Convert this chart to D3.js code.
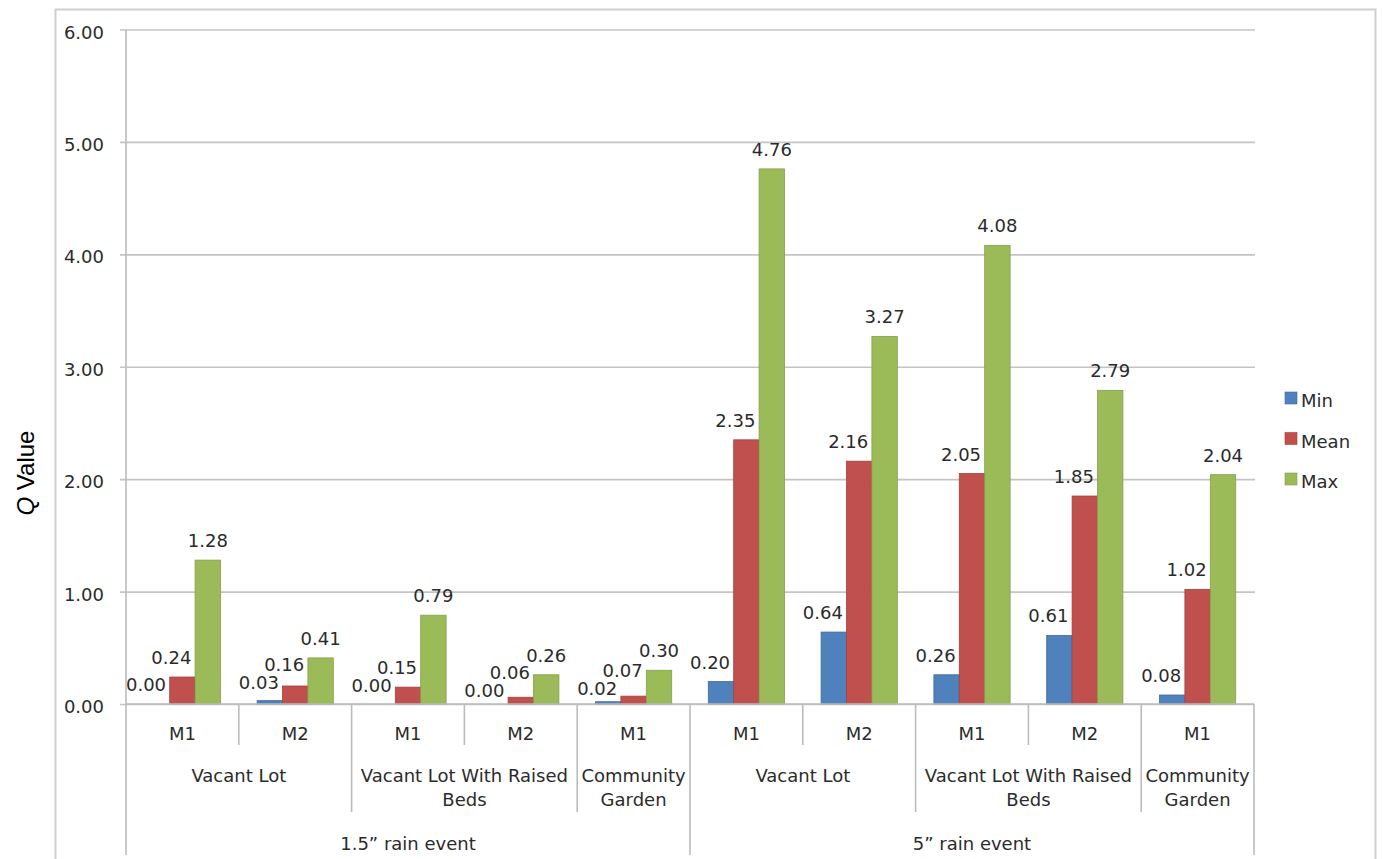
<!DOCTYPE html>
<html>
<head>
<meta charset="utf-8">
<script src="https://cdn.jsdelivr.net/npm/d3@7"></script>
<style>
  html, body { margin: 0; padding: 0; background: #fff; }
  svg text { font-family: "DejaVu Sans", Verdana, sans-serif; fill: #2b2b2b; }
</style>
</head>
<body>
<svg id="chart" width="1383" height="859"></svg>
<script>
// ---- data ----
const events = ['1.5” rain event', '1.5” rain event', '1.5” rain event', '1.5” rain event', '1.5” rain event',
                '5” rain event', '5” rain event', '5” rain event', '5” rain event', '5” rain event'];
const sites = ['Vacant Lot', 'Vacant Lot', 'Vacant Lot With Raised Beds', 'Vacant Lot With Raised Beds', 'Community Garden',
               'Vacant Lot', 'Vacant Lot', 'Vacant Lot With Raised Beds', 'Vacant Lot With Raised Beds', 'Community Garden'];
const methods = ['M1', 'M2', 'M1', 'M2', 'M1', 'M1', 'M2', 'M1', 'M2', 'M1'];

const seriesNames = ['Min', 'Mean', 'Max'];
const minValues  = [0.00, 0.03, 0.00, 0.00, 0.02, 0.20, 0.64, 0.26, 0.61, 0.08];
const meanValues = [0.24, 0.16, 0.15, 0.06, 0.07, 2.35, 2.16, 2.05, 1.85, 1.02];
const maxValues  = [1.28, 0.41, 0.79, 0.26, 0.30, 4.76, 3.27, 4.08, 2.79, 2.04];
const yTickValues = [0, 1, 2, 3, 4, 5, 6];

// ---- styling ----
const colors = { Min: '#4F81BD', Mean: '#C0504D', Max: '#9BBB59' };
const strokes = { Min: '#3f6c9f', Mean: '#a2413e', Max: '#83a048' };
const labelShift = { Min: -11, Mean: -11, Max: 0 };
const gridColor = '#c4c4c4';
const axisColor = '#bcbcbc';
const fontSize = 18;
const labelGap = 13;      // baseline distance above a bar top
const minLineGap = 18;    // minimum vertical spacing between stacked labels

const svg = d3.select('#chart');
const plot = { left: 126, right: 1254, top: 29.5, bottom: 704 };

// outer frame of the chart area
svg.append('rect')
  .attr('x', 55.5).attr('y', 9.5).attr('width', 1320).attr('height', 880)
  .attr('fill', 'none').attr('stroke', '#cfcfcf').attr('stroke-width', 2);

const catIds = d3.range(methods.length);
const x = d3.scaleBand().domain(catIds).range([plot.left, plot.right]).padding(0);
const xInner = d3.scaleBand().domain(seriesNames).range([0, x.bandwidth()])
  .paddingInner(0).paddingOuter(0.72);
const y = d3.scaleLinear().domain([0, 6]).range([plot.bottom, plot.top]);

// gridlines + y ticks
const yAxis = d3.axisLeft(y).tickValues(yTickValues).tickFormat(d3.format('.2f'))
  .tickSize(-(plot.right - plot.left + 1)).tickPadding(22);
const gy = svg.append('g').attr('transform', `translate(${plot.left},0)`).call(yAxis);
gy.select('.domain').remove();
gy.selectAll('.tick line').attr('stroke', gridColor).attr('stroke-width', 1.6).attr('x1', -6);
gy.selectAll('.tick text')
  .attr('font-size', fontSize).attr('dy', '8.5px')
  .style('font-family', '"DejaVu Sans", Verdana, sans-serif').style('fill', '#2b2b2b');

// y axis line
svg.append('line')
  .attr('x1', plot.left).attr('x2', plot.left)
  .attr('y1', plot.top).attr('y2', 855)
  .attr('stroke', axisColor).attr('stroke-width', 1.6);

// bars
const seriesData = { Min: minValues, Mean: meanValues, Max: maxValues };
const barData = [];
catIds.forEach(i => seriesNames.forEach(s => barData.push({ i, s, v: seriesData[s][i] })));

svg.append('g').selectAll('rect').data(barData).join('rect')
  .attr('x', d => x(d.i) + xInner(d.s))
  .attr('width', xInner.bandwidth())
  .attr('y', d => y(d.v))
  .attr('height', d => y(0) - y(d.v))
  .attr('fill', d => colors[d.s])
  .attr('stroke', d => d.v > 0 ? strokes[d.s] : 'none')
  .attr('stroke-width', 0.8);

// value labels: start above each bar, then spread Min/Mean apart where they collide
barData.forEach(d => {
  d.lx = x(d.i) + xInner(d.s) + xInner.bandwidth() / 2 + labelShift[d.s];
  d.ly = y(d.v) - labelGap;
});
catIds.forEach(i => {
  const lo = barData.find(d => d.i === i && d.s === 'Min');
  const hi = barData.find(d => d.i === i && d.s === 'Mean');
  const gap = lo.ly - hi.ly;
  if (Math.abs(lo.lx - hi.lx) < 40 && gap < minLineGap) {
    const need = (minLineGap - gap) / 2;
    lo.ly += need;
    hi.ly -= need;
  }
});
svg.append('g').selectAll('text').data(barData).join('text')
  .attr('x', d => d.lx)
  .attr('y', d => d.ly)
  .attr('text-anchor', 'middle')
  .attr('font-size', fontSize)
  .text(d => d3.format('.2f')(d.v));

// category axis: baseline
svg.append('line')
  .attr('x1', plot.left).attr('x2', plot.right)
  .attr('y1', plot.bottom).attr('y2', plot.bottom)
  .attr('stroke', axisColor).attr('stroke-width', 1.6);

// run-length groups for the multi-level axis
function runs(keyFn) {
  const out = [];
  catIds.forEach(i => {
    const k = keyFn(i);
    const last = out[out.length - 1];
    if (last && last.key === k) last.end = i; else out.push({ key: k, start: i, end: i });
  });
  return out;
}
const eventRuns = runs(i => events[i]);
const siteRuns = runs(i => events[i] + '|' + sites[i]);

const rowEnds = { method: 745, site: 812, event: 855 };
const edge = (i) => (i < catIds.length ? x(i) : plot.right);

// separators: deepest level wins
const edges = d3.range(catIds.length + 1).map(i => {
  let bottom = rowEnds.method;
  if (siteRuns.some(r => r.start === i || r.end + 1 === i)) bottom = rowEnds.site;
  if (eventRuns.some(r => r.start === i || r.end + 1 === i)) bottom = rowEnds.event;
  return { i, bottom };
});
svg.append('g').selectAll('line').data(edges.filter(e => e.i > 0)).join('line')
  .attr('x1', e => edge(e.i)).attr('x2', e => edge(e.i))
  .attr('y1', plot.bottom).attr('y2', e => e.bottom)
  .attr('stroke', axisColor).attr('stroke-width', 1.6);

// method row
svg.append('g').selectAll('text').data(catIds).join('text')
  .attr('x', i => x(i) + x.bandwidth() / 2)
  .attr('y', 740)
  .attr('text-anchor', 'middle').attr('font-size', fontSize)
  .text(i => methods[i]);

// site row, wrapped to the span width
const siteG = svg.append('g');
siteRuns.forEach(r => {
  const x0 = edge(r.start), x1 = edge(r.end + 1);
  const maxW = x1 - x0 - 8;
  const t = siteG.append('text')
    .attr('x', (x0 + x1) / 2).attr('y', 782)
    .attr('text-anchor', 'middle').attr('font-size', fontSize);
  const words = sites[r.start].split(' ');
  let line = [];
  let tspan = t.append('tspan').attr('x', (x0 + x1) / 2).attr('dy', 0);
  words.forEach(w => {
    line.push(w);
    tspan.text(line.join(' '));
    if (tspan.node().getComputedTextLength() > maxW && line.length > 1) {
      line.pop();
      tspan.text(line.join(' '));
      line = [w];
      tspan = t.append('tspan').attr('x', (x0 + x1) / 2).attr('dy', 24).text(w);
    }
  });
});

// event row
svg.append('g').selectAll('text').data(eventRuns).join('text')
  .attr('x', r => (edge(r.start) + edge(r.end + 1)) / 2)
  .attr('y', 850)
  .attr('text-anchor', 'middle').attr('font-size', fontSize)
  .text(r => r.key);

// y axis title
const title = svg.append('text')
  .attr('transform', 'translate(34,473) rotate(-90)')
  .attr('text-anchor', 'middle')
  .style('font-family', '"Liberation Sans", Arial, sans-serif')
  .style('fill', '#000')
  .attr('font-size', 24);
title.append('tspan').attr('font-style', 'italic').text('Q');
title.append('tspan').text(' Value');

// legend
const legend = svg.append('g').attr('transform', 'translate(1285,392)');
const li = legend.selectAll('g').data(seriesNames).join('g')
  .attr('transform', (d, k) => `translate(0,${k * 40.5})`);
li.append('rect').attr('width', 12).attr('height', 12)
  .attr('fill', d => colors[d]).attr('stroke', d => strokes[d]).attr('stroke-width', 0.6);
li.append('text').attr('x', 16).attr('y', 15).attr('font-size', fontSize).text(d => d);
</script>
</body>
</html>
